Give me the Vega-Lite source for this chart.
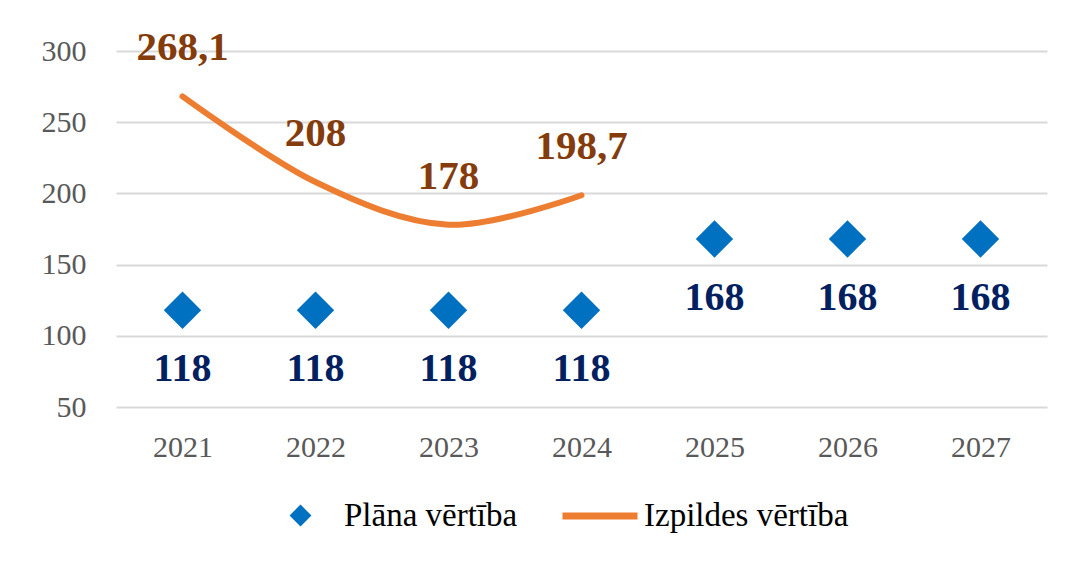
{
  "$schema": "https://vega.github.io/schema/vega-lite/v6.json",
  "width": 931,
  "height": 356,
  "autosize": {"type": "none"},
  "padding": {"left": 116, "top": 51, "right": 29, "bottom": 159},
  "background": "white",
  "config": {
    "view": {"stroke": null},
    "font": "Liberation Serif",
    "locale": {"number": {"decimal": ",", "thousands": " ", "grouping": [3], "currency": ["", " €"]}}
  },
  "data": {
    "values": [
      {"year": "2021", "plan": 118, "actual": 268.1},
      {"year": "2022", "plan": 118, "actual": 208},
      {"year": "2023", "plan": 118, "actual": 178},
      {"year": "2024", "plan": 118, "actual": 198.7},
      {"year": "2025", "plan": 168, "actual": null},
      {"year": "2026", "plan": 168, "actual": null},
      {"year": "2027", "plan": 168, "actual": null}
    ]
  },
  "encoding": {
    "x": {
      "field": "year", "type": "ordinal",
      "scale": {"type": "point", "padding": 0.5},
      "axis": {"title": null, "labelAngle": 0, "labelFont": "Liberation Serif", "labelFontSize": 30, "labelColor": "#595959", "labelPadding": 25, "ticks": false, "domain": false, "grid": false}
    }
  },
  "layer": [
    {
      "mark": {"type": "point", "filled": true, "size": 1400, "opacity": 1, "color": "#0070C0"},
      "encoding": {
        "y": {
          "field": "plan", "type": "quantitative",
          "scale": {"domain": [50, 300], "nice": false, "zero": false},
          "axis": {"title": null, "values": [50, 100, 150, 200, 250, 300], "labelFont": "Liberation Serif", "labelFontSize": 30, "labelColor": "#595959", "labelPadding": 30, "ticks": false, "domain": false, "grid": true, "gridColor": "#d9d9d9", "gridWidth": 2}
        },
        "shape": {
          "datum": "Plāna vērtība",
          "type": "nominal",
          "scale": {"domain": ["Plāna vērtība"], "range": ["diamond"]},
          "legend": {
            "title": null,
            "orient": "none",
            "legendX": 168,
            "legendY": 448,
            "labelFont": "Liberation Serif",
            "labelFontSize": 33,
            "labelColor": "#000000",
            "labelLimit": 500,
            "labelOffset": 27,
            "symbolSize": 480,
            "symbolFillColor": "#0070C0",
            "symbolStrokeColor": "transparent",
            "symbolOpacity": 1
          }
        }
      }
    },
    {
      "mark": {"type": "text", "dy": 59, "fontSize": 40, "fontWeight": "bold", "font": "Liberation Serif", "color": "#002060"},
      "encoding": {
        "y": {"field": "plan", "type": "quantitative"},
        "text": {"field": "plan", "type": "quantitative", "format": ".4~r"}
      }
    },
    {
      "transform": [{"filter": "datum.actual != null"}],
      "mark": {"type": "line", "interpolate": "cardinal", "strokeWidth": 6, "strokeCap": "round"},
      "encoding": {
        "y": {"field": "actual", "type": "quantitative"},
        "color": {
          "datum": "Izpildes vērtība",
          "type": "nominal",
          "scale": {"domain": ["Izpildes vērtība"], "range": ["#ED7D31"]},
          "legend": {
            "title": null,
            "orient": "none",
            "legendX": 443,
            "legendY": 424,
            "labelFont": "Liberation Serif",
            "labelFontSize": 33,
            "labelColor": "#000000",
            "labelLimit": 500,
            "labelOffset": 3,
            "symbolType": "stroke",
            "symbolSize": 5625,
            "symbolStrokeWidth": 7
          }
        }
      }
    },
    {
      "transform": [{"filter": "datum.actual != null"}],
      "mark": {"type": "text", "dy": -48, "fontSize": 41, "fontWeight": "bold", "font": "Liberation Serif", "color": "#843C0C"},
      "encoding": {
        "y": {"field": "actual", "type": "quantitative"},
        "text": {"field": "actual", "type": "quantitative", "format": ".4~r"}
      }
    }
  ]
}
